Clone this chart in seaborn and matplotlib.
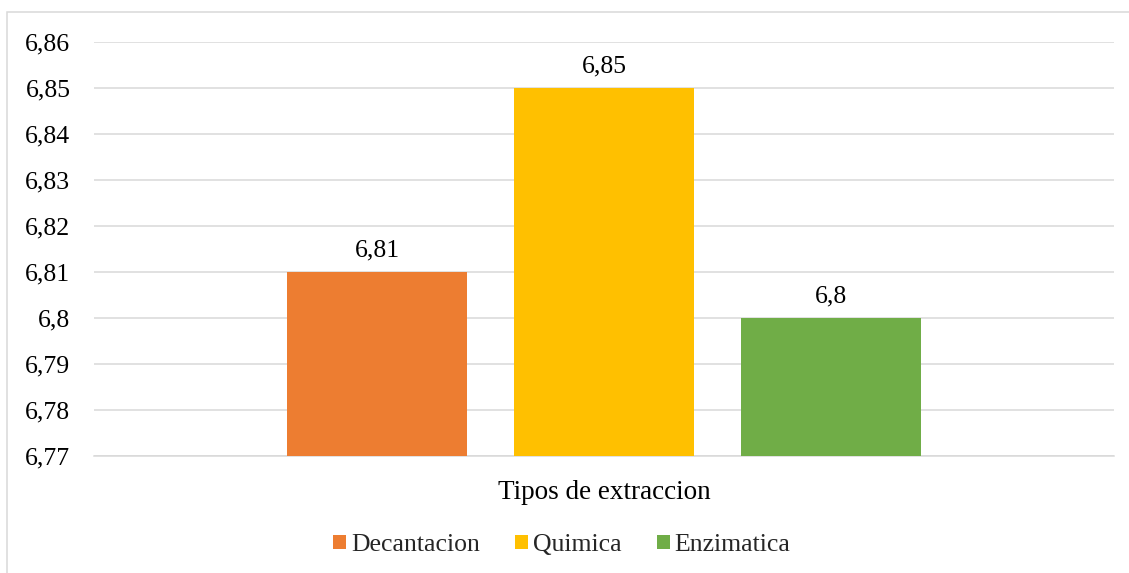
import matplotlib
matplotlib.use("Agg")
import matplotlib.pyplot as plt
from matplotlib.patches import Rectangle
from matplotlib.ticker import FixedLocator, FuncFormatter
import pandas as pd
import seaborn as sns

# Data
category = ["Tipos de extraccion", "Tipos de extraccion", "Tipos de extraccion"]
series = ["Decantacion", "Quimica", "Enzimatica"]
values = [6.81, 6.85, 6.80]
colors = ["#ED7D31", "#FFC000", "#70AD47"]
y_ticks = [6.77, 6.78, 6.79, 6.80, 6.81, 6.82, 6.83, 6.84, 6.85, 6.86]

df = pd.DataFrame({"categoria": category, "tipo": series, "valor": values})

sns.set_theme(style="white")
plt.rcParams["font.family"] = ["Liberation Serif", "DejaVu Serif"]

def comma(v, pos=None):
    return f"{v:g}".replace(".", ",")

fig = plt.figure(figsize=(11.29, 5.73), dpi=100)
ax = fig.add_axes([94 / 1129, 1 - 456 / 573, (1114 - 94) / 1129, (456 - 42) / 573])

sns.barplot(data=df, x="categoria", y="valor", hue="tipo", hue_order=series,
            palette=colors, width=0.6676, gap=0.211, saturation=1,
            errorbar=None, linewidth=0, ax=ax, zorder=3)

ax.set_xlim(-0.5, 0.5)
ax.set_ylim(6.77, 6.86)
ax.yaxis.set_major_locator(FixedLocator(y_ticks))
ax.yaxis.set_major_formatter(FuncFormatter(comma))
ax.grid(axis="y", color="#d9d9d9", linewidth=1.1, zorder=0)
ax.set_axisbelow(True)
for s in ["left", "right", "top"]:
    ax.spines[s].set_visible(False)
ax.spines["bottom"].set_color("#d9d9d9")
ax.spines["bottom"].set_linewidth(1.1)
ax.tick_params(axis="y", length=0, pad=17, labelsize=18.5, labelcolor="black")
ax.tick_params(axis="x", length=0, pad=17, labelsize=19.5, labelcolor="black")
ax.set_xlabel("")
ax.set_ylabel("")

for cont in ax.containers:
    ax.bar_label(cont, labels=[comma(b.get_height()) for b in cont],
                 padding=7.5, fontsize=18.5, color="black")

handles, labels = ax.get_legend_handles_labels()
ax.legend(handles, labels, loc="center", bbox_to_anchor=(562 / 1129, 1 - 545 / 573),
          bbox_transform=fig.transFigure, ncol=3, frameon=False, fontsize=18.5,
          handlelength=0.5, handleheight=0.5, handletextpad=0.2, columnspacing=1.36)

# Chart area border
fig.add_artist(Rectangle((7 / 1129, -0.1), 1.2, 1.1 - 12 / 573,
                         transform=fig.transFigure, fill=False,
                         edgecolor="#d9d9d9", linewidth=1.1, clip_on=False))

fig.savefig("out.png", dpi=100)
